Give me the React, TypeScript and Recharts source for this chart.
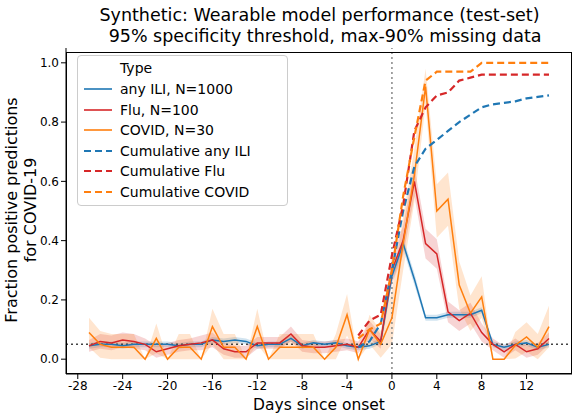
import {
  ComposedChart,
  Line,
  Area,
  XAxis,
  YAxis,
  ReferenceLine,
} from "recharts";

const days = [
  -27, -26, -25, -24, -23, -22, -21, -20, -19, -18, -17, -16, -15, -14, -13, -12, -11, -10, -9, -8, -7,
  -6, -5, -4, -3, -2, -1, 0, 1, 2, 3, 4, 5, 6, 7, 8, 9, 10, 11, 12, 13, 14,
];

const iliVals = [
  0.045, 0.05, 0.05, 0.045, 0.05, 0.05, 0.05, 0.05, 0.045, 0.05, 0.05, 0.065, 0.06, 0.065, 0.06, 0.045, 0.05,
  0.05, 0.07, 0.045, 0.055, 0.05, 0.055, 0.045, 0.04, 0.045, 0.06, 0.28, 0.39, 0.27, 0.14, 0.14, 0.15, 0.15,
  0.15, 0.165, 0.05, 0.04, 0.05, 0.055, 0.04, 0.05,
];
const fluVals = [
  0.045, 0.06, 0.055, 0.065, 0.06, 0.05, 0.025, 0.035, 0.045, 0.05, 0.055, 0.065, 0.035, 0.025, 0.025, 0.055,
  0.055, 0.055, 0.085, 0.045, 0.04, 0.04, 0.045, 0.05, 0.04, 0.1, 0.06, 0.3, 0.4, 0.6, 0.39, 0.355, 0.16, 0.13,
  0.155, 0.09, 0.05, 0.025, 0.05, 0.025, 0.035, 0.07,
];
const covidVals = [
  0.09, 0.05, 0.04, 0.04, 0.04, 0.0, 0.07, 0.0, 0.04, 0.04, 0.0, 0.11, 0.04, 0.04, 0.0, 0.11, 0.0, 0.04, 0.04,
  0.04, 0.04, 0.0, 0.04, 0.15, 0.0, 0.1, 0.05, 0.14, 0.39, 0.62, 0.92, 0.5, 0.54, 0.25, 0.155, 0.21, 0.0, 0.0,
  0.047, 0.075, 0.04, 0.11,
];

const iliErr = [
  0.01, 0.01, 0.01, 0.01, 0.01, 0.01, 0.01, 0.01, 0.01, 0.01, 0.01, 0.01, 0.01, 0.01, 0.01, 0.01, 0.01, 0.01,
  0.01, 0.01, 0.01, 0.01, 0.01, 0.01, 0.01, 0.01, 0.01, 0.02, 0.02, 0.02, 0.01, 0.01, 0.01, 0.01, 0.01, 0.01,
  0.01, 0.01, 0.01, 0.01, 0.01, 0.01,
];
const fluErr = [
  0.02, 0.025, 0.025, 0.025, 0.025, 0.02, 0.02, 0.02, 0.02, 0.02, 0.025, 0.025, 0.02, 0.02, 0.02, 0.02, 0.02,
  0.02, 0.025, 0.02, 0.02, 0.02, 0.02, 0.02, 0.02, 0.03, 0.025, 0.045, 0.05, 0.05, 0.05, 0.05, 0.035, 0.035,
  0.035, 0.03, 0.02, 0.02, 0.02, 0.02, 0.02, 0.02,
];
const covidErr = [
  0.05, 0.045, 0.045, 0.045, 0.045, 0.0, 0.05, 0.0, 0.045, 0.045, 0.0, 0.06, 0.045, 0.045, 0.0, 0.06, 0.0, 0.045,
  0.045, 0.045, 0.045, 0.0, 0.045, 0.07, 0.0, 0.05, 0.045, 0.09, 0.09, 0.09, 0.06, 0.09, 0.09, 0.08, 0.06,
  0.07, 0.0, 0.0, 0.045, 0.05, 0.045, 0.07,
];

// cumulative curves start at day -3
const cumIli = [0.04, 0.06, 0.12, 0.3, 0.5, 0.65, 0.71, 0.74, 0.77, 0.8, 0.825, 0.85, 0.86, 0.865, 0.87, 0.88, 0.885, 0.89];
const cumFlu = [0.08, 0.13, 0.15, 0.35, 0.52, 0.77, 0.85, 0.89, 0.9, 0.94, 0.95, 0.96, 0.96, 0.96, 0.96, 0.96, 0.96, 0.96];
const cumCovid = [0.07, 0.1, 0.12, 0.3, 0.55, 0.75, 0.94, 0.97, 0.97, 0.97, 0.97, 1.0, 1.0, 1.0, 1.0, 1.0, 1.0, 1.0];
const cumStart = days.indexOf(-3);

const xTicks = [-28, -24, -20, -16, -12, -8, -4, 0, 4, 8, 12];
const yTicks = [0, 0.2, 0.4, 0.6, 0.8, 1.0];

const BLUE = "#1f77b4";
const RED = "#d62728";
const ORANGE = "#ff7f0e";

const data = days.map((d, i) => ({
  day: d,
  ili: iliVals[i],
  flu: fluVals[i],
  covid: covidVals[i],
  iliBand: [Math.max(0, iliVals[i] - iliErr[i]), iliVals[i] + iliErr[i]],
  fluBand: [Math.max(0, fluVals[i] - fluErr[i]), fluVals[i] + fluErr[i]],
  covidBand: [Math.max(0, covidVals[i] - covidErr[i]), covidVals[i] + covidErr[i]],
  cumIli: i >= cumStart ? cumIli[i - cumStart] : null,
  cumFlu: i >= cumStart ? cumFlu[i - cumStart] : null,
  cumCovid: i >= cumStart ? cumCovid[i - cumStart] : null,
}));

const font = "'DejaVu Sans', sans-serif";

const legendItems = [
  { label: "any ILI, N=1000", color: BLUE, dash: false },
  { label: "Flu, N=100", color: RED, dash: false },
  { label: "COVID, N=30", color: ORANGE, dash: false },
  { label: "Cumulative any ILI", color: BLUE, dash: true },
  { label: "Cumulative Flu", color: RED, dash: true },
  { label: "Cumulative COVID", color: ORANGE, dash: true },
];

export default function App() {
  return (
    <div style={{ position: "absolute", left: 0, top: 0, width: 579, height: 420, background: "#fff", fontFamily: font }}>
      <div style={{ position: "absolute", left: 60, width: 519, top: 5, textAlign: "center", fontSize: 17.5, lineHeight: "21px", color: "#000" }}>
        Synthetic: Wearable model performance (test-set)
        <br />
        &nbsp;&nbsp;95% specificity threshold, max-90% missing data
      </div>
      <ComposedChart
        width={579}
        height={420}
        data={data}
        margin={{ top: 48, right: 7, bottom: 0, left: 0 }}
      >
        <XAxis
          dataKey="day"
          type="number"
          domain={[-29.05, 16.05]}
          ticks={xTicks}
          allowDataOverflow
          height={46}
          tickSize={5}
          tick={{ fontSize: 12, fill: "#000", fontFamily: font }}
          tickLine={{ stroke: "#000" }}
          axisLine={{ stroke: "#000" }}
          label={{ value: "Days since onset", position: "insideBottom", offset: 10, fontSize: 15.5, fill: "#000", fontFamily: font }}
        />
        <YAxis
          type="number"
          domain={[-0.05, 1.05]}
          ticks={yTicks}
          allowDataOverflow
          width={66}
          tickSize={5}
          tickFormatter={(v: number) => v.toFixed(1)}
          tick={{ fontSize: 12, fill: "#000", fontFamily: font }}
          tickLine={{ stroke: "#000" }}
          axisLine={{ stroke: "#000" }}
        />
        <ReferenceLine x={0} stroke="#888" strokeDasharray="2 3" strokeWidth={1.5} />
        <ReferenceLine y={0.05} stroke="#444" strokeDasharray="2 3" strokeWidth={1.5} />
        <Area dataKey="iliBand" stroke="none" fill={BLUE} fillOpacity={0.2} isAnimationActive={false} />
        <Area dataKey="fluBand" stroke="none" fill={RED} fillOpacity={0.2} isAnimationActive={false} />
        <Area dataKey="covidBand" stroke="none" fill={ORANGE} fillOpacity={0.2} isAnimationActive={false} />
        <Line dataKey="ili" stroke={BLUE} strokeWidth={1.5} dot={false} isAnimationActive={false} />
        <Line dataKey="flu" stroke={RED} strokeWidth={1.5} dot={false} isAnimationActive={false} />
        <Line dataKey="covid" stroke={ORANGE} strokeWidth={1.5} dot={false} isAnimationActive={false} />
        <Line dataKey="cumIli" stroke={BLUE} strokeWidth={2.2} strokeDasharray="7 4" dot={false} connectNulls={false} isAnimationActive={false} />
        <Line dataKey="cumFlu" stroke={RED} strokeWidth={2.2} strokeDasharray="7 4" dot={false} connectNulls={false} isAnimationActive={false} />
        <Line dataKey="cumCovid" stroke={ORANGE} strokeWidth={2.2} strokeDasharray="7 4" dot={false} connectNulls={false} isAnimationActive={false} />
      </ComposedChart>
      <div style={{ position: "absolute", left: 66, top: 52, width: 506, height: 322, border: "1px solid #000", boxSizing: "border-box", pointerEvents: "none" }} />
      <div
        style={{
          position: "absolute",
          left: 21,
          top: 210,
          transform: "translate(-50%, -50%) rotate(-90deg)",
          fontSize: 16,
          lineHeight: "19px",
          textAlign: "center",
          whiteSpace: "nowrap",
        }}
      >
        Fraction positive predictions
        <br />
        for COVID-19
      </div>
      <div
        style={{
          position: "absolute",
          left: 77,
          top: 55,
          width: 211,
          height: 151,
          border: "1px solid #ccc",
          borderRadius: 4,
          background: "rgba(255,255,255,0.8)",
          boxSizing: "border-box",
          fontSize: 14,
        }}
      >
        <div style={{ position: "absolute", left: 42, top: 4 }}>Type</div>
        {legendItems.map((it, i) => (
          <div key={it.label} style={{ position: "absolute", left: 4, top: 25 + i * 20.5, display: "flex", alignItems: "center" }}>
            <svg width={32} height={10}>
              <line x1={2} y1={5} x2={30} y2={5} stroke={it.color} strokeWidth={it.dash ? 2.2 : 1.6} strokeDasharray={it.dash ? "7 4" : undefined} />
            </svg>
            <span style={{ marginLeft: 6 }}>{it.label}</span>
          </div>
        ))}
      </div>
    </div>
  );
}
